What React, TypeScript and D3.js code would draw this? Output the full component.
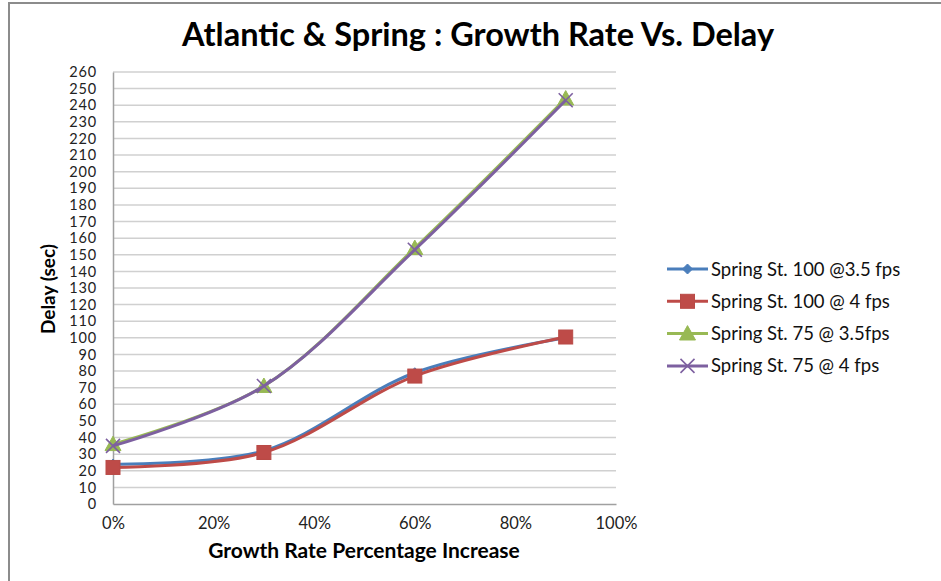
import React, { useEffect, useRef } from "react";
import * as d3 from "d3";

// Growth rate percentage increase (x) for every series
const growth = [0, 30, 60, 90];

// Delay in seconds for each scenario
const spring100At35 = [24, 32, 79, 100];
const spring100At4 = [22, 31, 77, 100.5];
const spring75At35 = [36, 71, 154, 244];
const spring75At4 = [35, 71, 153, 243];

const seriesNames = [
  "Spring St. 100 @3.5 fps",
  "Spring St. 100 @ 4 fps",
  "Spring St. 75 @ 3.5fps",
  "Spring St. 75 @ 4 fps",
];

const xTicks = [0, 20, 40, 60, 80, 100];
const yTicks = d3.range(0, 261, 10);

const title = "Atlantic & Spring : Growth Rate Vs. Delay";
const xTitle = "Growth Rate Percentage Increase";
const yTitle = "Delay (sec)";

const W = 941;
const H = 581;
const FONT = "Lato, 'Open Sans', sans-serif";

type Series = {
  name: string;
  values: number[];
  color: string;
  marker: "diamond" | "square" | "triangle" | "x";
};

const series: Series[] = [
  { name: seriesNames[0], values: spring100At35, color: "#4A7EBB", marker: "diamond" },
  { name: seriesNames[1], values: spring100At4, color: "#BE4B48", marker: "square" },
  { name: seriesNames[2], values: spring75At35, color: "#98B954", marker: "triangle" },
  { name: seriesNames[3], values: spring75At4, color: "#7D60A0", marker: "x" },
];

function drawMarker(
  g: d3.Selection<SVGGElement, unknown, null, undefined>,
  kind: Series["marker"],
  cx: number,
  cy: number,
  color: string
) {
  if (kind === "diamond") {
    const r = 5;
    g.append("path")
      .attr("d", `M${cx},${cy - r}L${cx + r},${cy}L${cx},${cy + r}L${cx - r},${cy}Z`)
      .attr("fill", color)
      .attr("stroke", color);
  } else if (kind === "square") {
    const s = 14;
    g.append("rect")
      .attr("x", cx - s / 2)
      .attr("y", cy - s / 2)
      .attr("width", s)
      .attr("height", s)
      .attr("fill", color)
      .attr("stroke", "#B94A46")
      .attr("stroke-width", 1);
  } else if (kind === "triangle") {
    const r = 8;
    g.append("path")
      .attr("d", `M${cx},${cy - r}L${cx + r},${cy + r * 0.8}L${cx - r},${cy + r * 0.8}Z`)
      .attr("fill", color)
      .attr("stroke", color);
  } else {
    const r = 7;
    g.append("path")
      .attr("d", `M${cx - r},${cy - r}L${cx + r},${cy + r}M${cx - r},${cy + r}L${cx + r},${cy - r}`)
      .attr("stroke", color)
      .attr("stroke-width", 1.6)
      .attr("fill", "none");
  }
}

export default function App() {
  const ref = useRef<SVGSVGElement>(null);

  useEffect(() => {
    document.body.style.margin = "0";
    const svg = d3.select(ref.current!);
    svg.selectAll("*").remove();

    const x = d3.scaleLinear().domain([0, 100]).range([113, 616]);
    const y = d3.scaleLinear().domain([0, 260]).range([504, 72]);

    svg.append("rect").attr("width", W).attr("height", H).attr("fill", "#fff");

    // outer frame (top and left edges)
    svg.append("path")
      .attr("d", `M9,${H}L9,3L${W},3`)
      .attr("fill", "none")
      .attr("stroke", "#8C8C8C")
      .attr("stroke-width", 2);

    // title
    svg.append("text")
      .attr("x", 478)
      .attr("y", 46)
      .attr("text-anchor", "middle")
      .attr("font-family", FONT)
      .attr("font-weight", "bold")
      .attr("font-size", 32.5)
      .attr("fill", "#000")
      .text(title);

    // horizontal gridlines
    svg.append("g")
      .selectAll("line")
      .data(yTicks.filter((t) => t > 0))
      .join("line")
      .attr("x1", x(0))
      .attr("x2", x(100))
      .attr("y1", (d) => y(d))
      .attr("y2", (d) => y(d))
      .attr("stroke", "#D0D0D0")
      .attr("stroke-width", 1.5);

    // axes
    const yAxis = d3.axisLeft(y).tickValues(yTicks).tickSize(0).tickPadding(16);
    const ga = svg.append("g").attr("transform", `translate(${x(0)},0)`).call(yAxis);
    ga.select(".domain").attr("stroke", "#A0A0A0").attr("stroke-width", 1.5);
    ga.selectAll("text")
      .attr("font-family", FONT)
      .attr("font-size", 14.5)
      .attr("letter-spacing", 0.8)
      .attr("fill", "#222");

    const xAxis = d3
      .axisBottom(x)
      .tickValues(xTicks)
      .tickSize(0)
      .tickPadding(13)
      .tickFormat((d) => `${d}%`);
    const gx = svg.append("g").attr("transform", `translate(0,${y(0)})`).call(xAxis);
    gx.select(".domain").attr("stroke", "#A0A0A0").attr("stroke-width", 1.5);
    gx.selectAll("text")
      .attr("font-family", FONT)
      .attr("font-size", 16.5)
      .attr("fill", "#222");

    // axis titles
    svg.append("text")
      .attr("x", 364)
      .attr("y", 558)
      .attr("text-anchor", "middle")
      .attr("font-family", FONT)
      .attr("font-weight", "bold")
      .attr("font-size", 21)
      .text(xTitle);

    svg.append("text")
      .attr("transform", `translate(55,289) rotate(-90)`)
      .attr("text-anchor", "middle")
      .attr("font-family", FONT)
      .attr("font-weight", "bold")
      .attr("font-size", 19)
      .text(yTitle);

    // series lines and markers
    const line = d3
      .line<number>()
      .x((_, i) => x(growth[i]))
      .y((d) => y(d))
      .curve(d3.curveCatmullRom.alpha(0.5));

    series.forEach((s) => {
      const g = svg.append("g");
      g.append("path")
        .attr("d", line(s.values))
        .attr("fill", "none")
        .attr("stroke", s.color)
        .attr("stroke-width", 3)
        .attr("stroke-linejoin", "round");
      s.values.forEach((v, i) => drawMarker(g, s.marker, x(growth[i]), y(v), s.color));
    });

    // legend
    const lg = svg.append("g");
    series.forEach((s, i) => {
      const cy = 269 + i * 32.3;
      const row = lg.append("g");
      row.append("line")
        .attr("x1", 667)
        .attr("x2", 708)
        .attr("y1", cy)
        .attr("y2", cy)
        .attr("stroke", s.color)
        .attr("stroke-width", 3);
      drawMarker(row, s.marker, 687.5, cy, s.color);
      row.append("text")
        .attr("x", 711)
        .attr("y", cy + 6.5)
        .attr("font-family", FONT)
        .attr("font-size", 18.5)
        .attr("fill", "#111")
        .text(s.name);
    });
  }, []);

  return <svg ref={ref} width={W} height={H} style={{ display: "block" }} />;
}
